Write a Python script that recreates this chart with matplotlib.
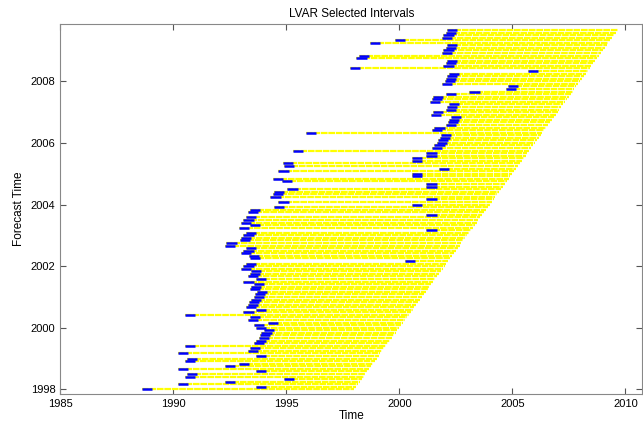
import numpy as np
import matplotlib
matplotlib.use('Agg')
import matplotlib.pyplot as plt

# Forecast times: monthly from Jan 1998
n_rows = 141
forecast_time = 1998 + np.arange(n_rows) / 12.0

# Start of the selected interval for each forecast time
interval_start = [
    1988.6, 1993.65, 1990.2, 1992.3, 1994.9, 1990.5, 1990.6, 1993.65, 1990.2, 1992.3,
    1992.9, 1990.5, 1990.6, 1993.65, 1990.2, 1993.3, 1993.4, 1990.5, 1993.55, 1993.65,
    1993.8, 1993.85, 1993.9, 1994.0, 1993.65, 1993.55, 1994.2, 1993.3, 1993.4, 1990.5,
    1993.1, 1993.65, 1993.2, 1993.3, 1993.35, 1993.45, 1993.55, 1993.6, 1993.7, 1993.4,
    1993.45, 1993.55, 1993.1, 1993.65, 1993.3, 1993.4, 1993.45, 1993.0, 1993.1, 1993.2,
    2000.25, 1993.4, 1993.35, 1993.0, 1993.1, 1993.2, 1992.3, 1992.35, 1992.95, 1993.0,
    1993.1, 1993.2, 2001.2, 1992.9, 1993.4, 1993.0, 1993.1, 1993.2, 2001.2, 1993.3,
    1993.4, 1994.45, 2000.55, 1994.65, 2001.2, 1994.3, 1994.4, 1994.45, 1995.05, 2001.2,
    2001.2, 1994.8, 1994.4, 2000.55, 2000.55, 1994.65, 2001.75, 1994.9, 1994.85, 2000.55,
    2000.55, 2001.2, 2001.2, 1995.3, 2001.45, 2001.55, 2001.65, 2001.7, 2001.8, 2001.85,
    1995.85, 2001.45, 2001.55, 2002.05, 2002.15, 2002.2, 2002.3, 2001.4, 2001.5, 2002.05,
    2002.1, 2002.2, 2001.35, 2001.45, 2001.5, 2002.05, 2003.1, 2004.7, 2004.8, 2001.9,
    2002.0, 2002.05, 2002.1, 2002.2, 2005.7, 1997.8, 2001.95, 2002.05, 2002.1, 1998.1,
    1998.2, 2001.9, 2001.95, 2002.05, 2002.1, 1998.7, 1999.8, 2001.9, 2001.95, 2002.05,
    2002.1,
]
blue_len = 0.45  # first half year of each interval is marked in blue

plt.rcParams['font.family'] = ['Liberation Sans', 'DejaVu Sans']

fig = plt.figure(figsize=(6.43, 4.22), dpi=100)
ax = fig.add_axes([60.3 / 643, 28 / 422, 582 / 643, 370 / 422])

for t, s in zip(forecast_time, interval_start):
    ax.plot([s, t], [t, t], color='#ffff00', lw=1.6, dashes=(3.0, 0.35),
            dash_capstyle='butt')
for t, s in zip(forecast_time, interval_start):
    ax.plot([s, s + blue_len], [t, t], color='#0000ff', lw=1.8,
            solid_capstyle='butt')

ax.set_xlim(1985, 2010.75)
ax.set_ylim(1997.85, 2009.86)
ax.set_xticks([1985, 1990, 1995, 2000, 2005, 2010])
ax.set_yticks([1998, 2000, 2002, 2004, 2006, 2008])
ax.tick_params(direction='in', top=True, right=True, labelsize=8, length=4,
               color='#555555', width=0.8)
for sp in ax.spines.values():
    sp.set_color('#888888')
    sp.set_linewidth(0.8)

ax.set_title('LVAR Selected Intervals', fontsize=8.5, pad=5)
ax.set_xlabel('Time', fontsize=8.5, labelpad=1)
ax.set_ylabel('Forecast Time', fontsize=8.5, labelpad=4)

fig.savefig('out.png', dpi=100)
